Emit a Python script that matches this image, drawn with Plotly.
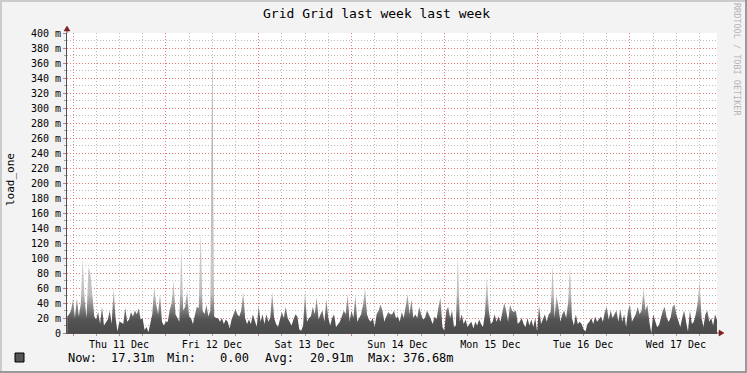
import pandas as pd
import plotly.graph_objects as go

# ---- data (load_one, in milli units), 30-minute samples ----
start_time = "2025-12-10 22:30"
wed10 = [22, 25, 30]
thu11 = [45, 20, 47, 22, 38, 100, 45, 20, 88, 80, 48, 22, 18, 28, 12, 35, 10, 14, 18, 30, 12, 60, 20, 2,
         15, 14, 12, 34, 15, 18, 28, 22, 30, 25, 33, 18, 20, 4, 8, 1, 12, 25, 62, 38, 25, 52, 15, 10]
fri12 = [15, 15, 30, 40, 70, 25, 20, 15, 115, 30, 35, 57, 22, 20, 12, 25, 35, 33, 135, 30, 25, 38, 22, 30,
         376.68, 22, 20, 20, 15, 20, 12, 18, 15, 6, 18, 25, 32, 25, 22, 30, 55, 20, 12, 18, 12, 25, 15, 8]
sat13 = [36, 15, 25, 12, 25, 15, 20, 55, 20, 12, 8, 20, 28, 20, 35, 20, 15, 10, 18, 25, 22, 5, 3, 10,
         55, 15, 20, 22, 35, 25, 48, 18, 25, 30, 15, 45, 20, 10, 20, 25, 8, 12, 15, 22, 30, 25, 52, 15]
sun14 = [30, 20, 50, 15, 20, 25, 38, 60, 25, 18, 15, 20, 8, 25, 30, 38, 30, 15, 22, 28, 25, 25, 30, 20,
         22, 15, 28, 20, 35, 52, 25, 45, 20, 25, 20, 35, 25, 18, 20, 30, 25, 18, 12, 22, 18, 35, 48, 8]
mon15 = [3, 30, 35, 20, 30, 8, 10, 105, 15, 25, 12, 18, 8, 12, 15, 6, 15, 10, 18, 12, 8, 25, 75, 30,
         12, 15, 25, 15, 22, 15, 28, 40, 30, 15, 38, 30, 28, 30, 12, 15, 20, 12, 8, 20, 10, 18, 8, 20]
tue16 = [2, 37, 12, 18, 25, 15, 25, 28, 92, 20, 50, 35, 15, 25, 30, 20, 40, 90, 20, 10, 25, 12, 15, 12,
         5, 2, 12, 15, 20, 12, 22, 15, 18, 22, 15, 28, 35, 18, 30, 20, 25, 30, 15, 32, 15, 25, 8, 30]
wed17 = [38, 15, 20, 25, 35, 25, 30, 60, 30, 38, 15, 0, 25, 15, 8, 10, 20, 30, 35, 20, 15, 20, 35, 38,
         25, 15, 8, 20, 30, 15, 2, 30, 12, 15, 25, 40, 70, 20, 8, 25, 30, 15, 20, 10, 25, 17.31]

day_ticks = ["2025-12-11", "2025-12-12", "2025-12-13", "2025-12-14", "2025-12-15", "2025-12-16", "2025-12-17"]
day_labels = ["Thu 11 Dec", "Fri 12 Dec", "Sat 13 Dec", "Sun 14 Dec", "Mon 15 Dec", "Tue 16 Dec", "Wed 17 Dec"]
y_ticks = list(range(0, 401, 20))
y_labels = ["0"] + [f"{v} m" for v in y_ticks[1:]]
y_minor = list(range(10, 400, 20))
x_range = ["2025-12-10 22:27", "2025-12-17 22:30"]

title_text = "Grid Grid last week last week"
y_title = "load_one"
legend_tokens = ["Now:", "17.31m", "Min:", "0.00", "Avg:", "20.91m", "Max:", "376.68m"]
legend_token_px = [67, 110, 166, 219, 264, 309, 367, 402]
watermark = "RRDTOOL / TOBI OETIKER"

values = wed10 + thu11 + fri12 + sat13 + sun14 + mon15 + tue16 + wed17
times = pd.date_range(start_time, periods=len(values), freq="30min")
x_minor = [t for t in pd.date_range("2025-12-10 18:00", "2025-12-17 23:00", freq="6h") if t.hour != 0]

# ---- geometry helpers (pixel -> paper) ----
L, R, T, B = 67, 717, 33, 333
W, H = 747, 373
def px(x):
    return (x - L) / (R - L)
def py(y):
    return (B - y) / (B - T)

MONO = "DejaVu Sans Mono"
fig = go.Figure()
fig.add_trace(go.Scatter(
    x=times, y=values, mode="lines", line=dict(width=0, color="#555555"),
    fill="tozeroy",
    fillgradient=dict(type="vertical", start=0, stop=400,
                      colorscale=[[0, "#4a4a4a"], [0.045, "#545454"], [0.13, "#bdbdbd"],
                                  [0.22, "#c8c8c8"], [1, "#a0a0a0"]]),
    hoverinfo="x+y", showlegend=False,
))

major_grid = "#e47c7c"
minor_grid = "#bdbdbd"

fig.update_layout(
    width=W, height=H,
    margin=dict(l=L, r=W - R, t=T, b=H - B, pad=0),
    paper_bgcolor="#f3f3f3", plot_bgcolor="#ffffff",
    font=dict(family=MONO, size=10, color="#000000"),
    showlegend=False,
    xaxis=dict(
        type="date", range=x_range,
        tickvals=day_ticks, ticktext=day_labels, ticklabelshift=46,
        tickfont=dict(family=MONO, size=10, color="#000000"),
        showgrid=True, gridcolor=major_grid, gridwidth=1, griddash="1px,2px",
        ticks="outside", ticklen=2, tickcolor="#c08080",
        minor=dict(tickmode="array", tickvals=x_minor, showgrid=True,
                   gridcolor=minor_grid, griddash="1px,2px", gridwidth=1,
                   ticks="outside", ticklen=2, tickcolor="#a0a0a0"),
        showline=True, linecolor="#505050", linewidth=1, zeroline=False,
        fixedrange=True,
    ),
    yaxis=dict(
        range=[0, 400], tickvals=y_ticks, ticktext=y_labels,
        tickfont=dict(family=MONO, size=10, color="#000000"),
        showgrid=True, gridcolor=major_grid, gridwidth=1, griddash="1px,2px",
        ticks="outside", ticklen=3, tickcolor="#c08080",
        minor=dict(tickmode="array", tickvals=y_minor, showgrid=True, gridcolor=minor_grid,
                   griddash="1px,2px", gridwidth=1, ticks="outside", ticklen=2, tickcolor="#a0a0a0"),
        showline=True, linecolor="#505050", linewidth=1, zeroline=False,
        fixedrange=True,
    ),
)

ann = [
    dict(text=title_text, x=px(376), y=py(13), xanchor="center", yanchor="middle",
         font=dict(family=MONO, size=13, color="#000000")),
    dict(text=y_title, x=px(10), y=py(180), xanchor="center", yanchor="middle", textangle=-90,
         font=dict(family=MONO, size=11, color="#000000")),
    dict(text=watermark, x=px(737), y=py(60), xanchor="center", yanchor="middle", textangle=90,
         font=dict(family=MONO, size=8.5, color="#b5b5b5")),
]
for tok, xp in zip(legend_tokens, legend_token_px):
    ann.append(dict(text=tok, x=px(xp - 1), y=py(358), xanchor="left", yanchor="middle",
                    font=dict(family=MONO, size=12, color="#000000")))
for a in ann:
    a.update(xref="paper", yref="paper", showarrow=False)
fig.update_layout(annotations=ann)

shapes = []
# legend swatch
shapes.append(dict(type="rect", xref="paper", yref="paper", x0=px(15), x1=px(24), y0=py(353), y1=py(362),
                   fillcolor="#555555", line=dict(color="#000000", width=1)))
# image border shading
shapes += [
    dict(type="rect", x0=px(0), x1=px(W), y0=py(0), y1=py(2), fillcolor="#cbcbcb", line=dict(width=0)),
    dict(type="rect", x0=px(0), x1=px(2), y0=py(0), y1=py(H), fillcolor="#cbcbcb", line=dict(width=0)),
    dict(type="rect", x0=px(0), x1=px(W), y0=py(H - 2), y1=py(H), fillcolor="#999999", line=dict(width=0)),
    dict(type="rect", x0=px(W - 2), x1=px(W), y0=py(0), y1=py(H), fillcolor="#999999", line=dict(width=0)),
]
for s in shapes[1:]:
    s.update(xref="paper", yref="paper")
# axis extensions + arrows
shapes.append(dict(type="line", xref="paper", yref="paper", x0=px(67), x1=px(67), y0=py(33), y1=py(30),
                   line=dict(color="#505050", width=1)))
shapes.append(dict(type="line", xref="paper", yref="paper", x0=px(717), x1=px(720), y0=py(333), y1=py(333),
                   line=dict(color="#505050", width=1)))
arrow = "#7f1f1f"
shapes.append(dict(type="path", xref="paper", yref="paper",
                   path=f"M {px(64)} {py(31)} L {px(70)} {py(31)} L {px(67)} {py(26)} Z",
                   fillcolor=arrow, line=dict(color=arrow, width=0.5)))
shapes.append(dict(type="path", xref="paper", yref="paper",
                   path=f"M {px(719)} {py(330)} L {px(719)} {py(336)} L {px(724)} {py(333)} Z",
                   fillcolor=arrow, line=dict(color=arrow, width=0.5)))
fig.update_layout(shapes=shapes)

fig.write_html("out.html")
